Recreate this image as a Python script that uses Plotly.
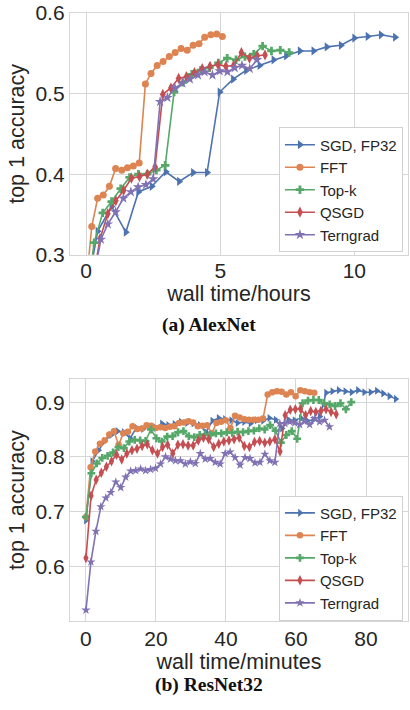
import plotly.graph_objects as go

# ---------------- AlexNet (hours) ----------------
alex_sgd_x = [0.0, 0.43, 0.95, 1.48, 1.95, 2.45, 2.97, 3.47, 3.99, 4.51, 4.98, 5.48, 5.97, 6.47, 6.99, 7.46, 7.97, 8.48, 8.97, 9.50, 10.00, 10.50, 10.99, 11.52]
alex_sgd_y = [0.25, 0.329, 0.360, 0.328, 0.378, 0.385, 0.403, 0.391, 0.402, 0.402, 0.502, 0.518, 0.529, 0.535, 0.542, 0.547, 0.553, 0.553, 0.558, 0.560, 0.569, 0.571, 0.573, 0.570]

alex_fft_x = [0.0, 0.21, 0.43, 0.64, 0.87, 1.10, 1.33, 1.54, 1.76, 1.98, 2.21, 2.42, 2.65, 2.87, 3.10, 3.32, 3.54, 3.77, 3.99, 4.21, 4.42, 4.65, 4.87, 5.08]
alex_fft_y = [0.26, 0.335, 0.370, 0.374, 0.385, 0.407, 0.405, 0.408, 0.410, 0.414, 0.512, 0.525, 0.535, 0.540, 0.546, 0.551, 0.556, 0.554, 0.560, 0.562, 0.570, 0.573, 0.574, 0.571]

alex_topk_x = [0.0, 0.30, 0.62, 0.95, 1.29, 1.62, 1.95, 2.28, 2.62, 2.95, 3.28, 3.61, 3.94, 4.27, 4.60, 4.93, 5.26, 5.59, 5.92, 6.25, 6.58, 6.91, 7.24, 7.57]
alex_topk_y = [0.24, 0.315, 0.352, 0.366, 0.382, 0.396, 0.400, 0.400, 0.405, 0.411, 0.502, 0.514, 0.524, 0.529, 0.532, 0.538, 0.544, 0.542, 0.546, 0.549, 0.559, 0.553, 0.554, 0.551]

alex_qsgd_x = [0.0, 0.52, 0.81, 1.11, 1.40, 1.69, 1.99, 2.28, 2.57, 2.86, 3.16, 3.45, 3.74, 4.04, 4.33, 4.62, 4.92, 5.21, 5.50, 5.79, 6.09, 6.38, 6.67]
alex_qsgd_y = [0.22, 0.320, 0.351, 0.367, 0.380, 0.395, 0.397, 0.400, 0.409, 0.499, 0.507, 0.519, 0.521, 0.526, 0.531, 0.534, 0.536, 0.534, 0.535, 0.551, 0.544, 0.547, 0.548]

alex_tern_x = [0.0, 0.55, 0.81, 1.10, 1.39, 1.67, 1.94, 2.23, 2.50, 2.76, 3.03, 3.31, 3.59, 3.87, 4.17, 4.42, 4.71, 4.98, 5.27, 5.54, 5.81, 6.10, 6.37]
alex_tern_y = [0.22, 0.319, 0.338, 0.353, 0.370, 0.378, 0.384, 0.387, 0.394, 0.490, 0.495, 0.507, 0.513, 0.518, 0.523, 0.527, 0.523, 0.528, 0.527, 0.532, 0.535, 0.531, 0.542]

# ---------------- ResNet32 (minutes) ----------------
res_sgd_x = [0.0, 1.8, 3.6, 5.4, 7.2, 9.0, 10.8, 12.6, 14.4, 16.3, 18.1, 19.9, 21.7, 23.5, 25.3, 27.1, 28.9, 30.7, 32.5, 34.3,
             36.1, 37.9, 39.7, 41.5, 43.3, 45.2, 47.0, 48.8, 50.6, 52.4, 54.2, 56.0, 57.8, 59.6, 61.4, 63.2, 65.0, 66.8, 68.6, 70.4,
             72.2, 74.1, 75.9, 77.7, 79.5, 81.3, 83.1, 84.9, 86.7, 88.5]
res_sgd_y = [0.684, 0.792, 0.812, 0.829, 0.840, 0.847, 0.845, 0.834, 0.853, 0.851, 0.856, 0.853, 0.861, 0.858, 0.860, 0.864, 0.862, 0.861, 0.858, 0.845,
             0.866, 0.871, 0.869, 0.867, 0.862, 0.864, 0.861, 0.867, 0.866, 0.871, 0.868, 0.852, 0.868, 0.867, 0.871, 0.866, 0.868, 0.874, 0.917, 0.920,
             0.922, 0.920, 0.918, 0.922, 0.918, 0.918, 0.921, 0.916, 0.911, 0.906]

res_fft_x = [0.0, 1.33, 2.66, 3.99, 5.32, 6.66, 7.99, 9.32, 10.65, 11.98, 13.31, 14.64, 15.97, 17.30, 18.63, 19.97, 21.30, 22.63, 23.96, 25.29,
             26.62, 27.95, 29.28, 30.61, 31.94, 33.28, 34.61, 35.94, 37.27, 38.60, 39.93, 41.26, 42.59, 43.92, 45.25, 46.59, 47.92, 49.25, 50.58, 51.91,
             53.24, 54.57, 55.90, 57.23, 58.56, 59.90, 61.23, 62.56, 63.89, 65.22]
res_fft_y = [0.690, 0.781, 0.810, 0.824, 0.830, 0.841, 0.847, 0.822, 0.843, 0.846, 0.856, 0.851, 0.852, 0.858, 0.857, 0.853, 0.854, 0.853, 0.855, 0.856,
             0.862, 0.863, 0.865, 0.863, 0.856, 0.857, 0.858, 0.843, 0.862, 0.864, 0.867, 0.853, 0.875, 0.872, 0.869, 0.868, 0.868, 0.868, 0.870, 0.914,
             0.918, 0.920, 0.919, 0.914, 0.918, 0.911, 0.922, 0.920, 0.918, 0.917]

res_topk_x = [0.0, 1.55, 3.09, 4.64, 6.19, 7.74, 9.28, 10.83, 12.38, 13.92, 15.47, 17.02, 18.56, 20.11, 21.66, 23.21, 24.75, 26.30, 27.85, 29.39,
              30.94, 32.49, 34.03, 35.58, 37.13, 38.68, 40.22, 41.77, 43.32, 44.86, 46.41, 47.96, 49.51, 51.05, 52.60, 54.15, 55.69, 57.24, 58.79, 60.33,
              61.88, 63.43, 64.98, 66.52, 68.07, 69.62, 71.16, 72.71, 74.26, 75.80]
res_topk_y = [0.690, 0.770, 0.788, 0.798, 0.802, 0.808, 0.818, 0.816, 0.828, 0.831, 0.830, 0.829, 0.850, 0.834, 0.828, 0.837, 0.838, 0.845, 0.847, 0.838,
              0.836, 0.840, 0.841, 0.840, 0.843, 0.843, 0.845, 0.844, 0.846, 0.845, 0.847, 0.848, 0.852, 0.850, 0.858, 0.848, 0.826, 0.840, 0.847, 0.833,
              0.898, 0.903, 0.904, 0.904, 0.898, 0.896, 0.893, 0.898, 0.887, 0.900]

res_qsgd_x = [0.0, 1.46, 2.92, 4.38, 5.84, 7.30, 8.75, 10.21, 11.67, 13.13, 14.59, 16.05, 17.51, 18.97, 20.43, 21.89, 23.34, 24.80, 26.26, 27.72,
              29.18, 30.64, 32.10, 33.56, 35.02, 36.48, 37.93, 39.39, 40.85, 42.31, 43.77, 45.23, 46.69, 48.15, 49.61, 51.07, 52.52, 53.98, 55.44, 56.90,
              58.36, 59.82, 61.28, 62.74, 64.20, 65.66, 67.11, 68.57, 70.03, 71.49]
res_qsgd_y = [0.615, 0.729, 0.758, 0.771, 0.782, 0.792, 0.804, 0.795, 0.806, 0.812, 0.815, 0.820, 0.823, 0.812, 0.806, 0.818, 0.822, 0.806, 0.822, 0.823,
              0.821, 0.821, 0.830, 0.835, 0.832, 0.818, 0.824, 0.828, 0.830, 0.832, 0.835, 0.820, 0.818, 0.827, 0.829, 0.826, 0.828, 0.832, 0.810, 0.876,
              0.886, 0.887, 0.888, 0.876, 0.884, 0.882, 0.884, 0.887, 0.882, 0.878]

res_tern_x = [0.0, 1.42, 2.84, 4.26, 5.68, 7.10, 8.52, 9.94, 11.36, 12.78, 14.20, 15.62, 17.04, 18.46, 19.88, 21.30, 22.72, 24.14, 25.56, 26.98,
              28.40, 29.82, 31.24, 32.66, 34.08, 35.50, 36.92, 38.34, 39.76, 41.18, 42.60, 44.02, 45.44, 46.86, 48.28, 49.70, 51.12, 52.54, 53.96, 55.38,
              56.80, 58.22, 59.64, 61.06, 62.48, 63.90, 65.32, 66.74, 68.16, 69.58]
res_tern_y = [0.520, 0.608, 0.664, 0.709, 0.725, 0.735, 0.754, 0.744, 0.763, 0.774, 0.775, 0.778, 0.775, 0.777, 0.779, 0.787, 0.800, 0.796, 0.793, 0.793,
              0.787, 0.791, 0.788, 0.806, 0.796, 0.797, 0.790, 0.787, 0.806, 0.809, 0.799, 0.785, 0.799, 0.797, 0.789, 0.790, 0.805, 0.793, 0.790, 0.861,
              0.861, 0.864, 0.862, 0.859, 0.865, 0.859, 0.870, 0.864, 0.867, 0.855]

names = ["SGD, FP32", "FFT", "Top-k", "QSGD", "Terngrad"]
colors = ["#4C72B0", "#DD8452", "#55A868", "#C44E52", "#8172B3"]
symbols = ["triangle-right", "circle", "cross", "diamond-tall", "star"]
msizes_top = [8, 7, 7, 8, 8]
msizes_bot = [7, 6.5, 6.5, 7.5, 7]

alex = [(alex_sgd_x, alex_sgd_y), (alex_fft_x, alex_fft_y), (alex_topk_x, alex_topk_y),
        (alex_qsgd_x, alex_qsgd_y), (alex_tern_x, alex_tern_y)]
res = [(res_sgd_x, res_sgd_y), (res_fft_x, res_fft_y), (res_topk_x, res_topk_y),
       (res_qsgd_x, res_qsgd_y), (res_tern_x, res_tern_y)]

fig = go.Figure()
for i, (xs, ys) in enumerate(alex):
    fig.add_trace(go.Scatter(x=xs, y=ys, mode="lines+markers", name=names[i],
                             line=dict(color=colors[i], width=1.6),
                             marker=dict(symbol=symbols[i], size=msizes_top[i], color=colors[i], line=dict(width=0)),
                             xaxis="x", yaxis="y", legend="legend"))
for i, (xs, ys) in enumerate(res):
    fig.add_trace(go.Scatter(x=xs, y=ys, mode="lines+markers", name=names[i],
                             line=dict(color=colors[i], width=1.6),
                             marker=dict(symbol=symbols[i], size=msizes_bot[i], color=colors[i], line=dict(width=0)),
                             xaxis="x2", yaxis="y2", legend="legend2"))

txt = "#262626"
grid = "#d6d6d6"
axcommon = dict(showgrid=True, gridcolor=grid, gridwidth=1.3, showline=True, linecolor=grid, linewidth=1.3,
                mirror=True, zeroline=False, ticks="", tickfont=dict(size=21, color=txt),
                title_font=dict(size=21.5, color=txt), ticklabeloverflow="allow")

H = 611.0
fig.update_layout(
    width=410, height=710,
    margin=dict(l=70, r=1, t=10, b=89),
    paper_bgcolor="white", plot_bgcolor="white",
    font=dict(family="Liberation Sans, Arial, sans-serif", color=txt),
    xaxis=dict(axcommon, domain=[0, 1], range=[-0.6, 12.0], tickvals=[0, 5, 10], anchor="y",
               ticklabelstandoff=-3, title=dict(text="wall time/hours", standoff=2)),
    yaxis=dict(axcommon, domain=[1 - 243 / H, 1], range=[0.2999, 0.6001], tickvals=[0.3, 0.4, 0.5, 0.6],
               ticktext=["0.3", "0.4", "0.5", "0.6"], anchor="x", title=dict(text="top 1 accuracy", standoff=4)),
    xaxis2=dict(axcommon, domain=[0, 1], range=[-4.56, 92.0], tickvals=[0, 20, 40, 60, 80], anchor="y2",
                ticklabelstandoff=-1, title=dict(text="wall time/minutes", standoff=3)),
    yaxis2=dict(axcommon, domain=[0, 243 / H], range=[0.5, 0.942], tickvals=[0.6, 0.7, 0.8, 0.9],
                ticktext=["0.6", "0.7", "0.8", "0.9"], anchor="x2", title=dict(text="top 1 accuracy", standoff=4)),
    legend=dict(x=0.985, y=1 - 115 / H, xanchor="right", yanchor="top", bgcolor="white",
                bordercolor="#d0d0d0", borderwidth=1, font=dict(size=15, color=txt)),
    legend2=dict(x=0.985, y=1 - 485 / H, xanchor="right", yanchor="top", bgcolor="white",
                 bordercolor="#d0d0d0", borderwidth=1, font=dict(size=15, color=txt)),
    annotations=[
        dict(text="<b>(a) AlexNet</b>", xref="paper", yref="paper", x=0.41, y=1 - 314 / H,
             xanchor="center", yanchor="middle", showarrow=False,
             font=dict(family="Liberation Serif, Times New Roman, serif", size=19.5, color="#111111")),
        dict(text="<b>(b) ResNet32</b>", xref="paper", yref="paper", x=0.41, y=1 - 675 / H,
             xanchor="center", yanchor="middle", showarrow=False,
             font=dict(family="Liberation Serif, Times New Roman, serif", size=19.5, color="#111111")),
    ],
)

fig.write_html("out.html", config={"displayModeBar": False},
               post_script="document.body.style.margin='0';document.body.style.overflow='hidden';")
